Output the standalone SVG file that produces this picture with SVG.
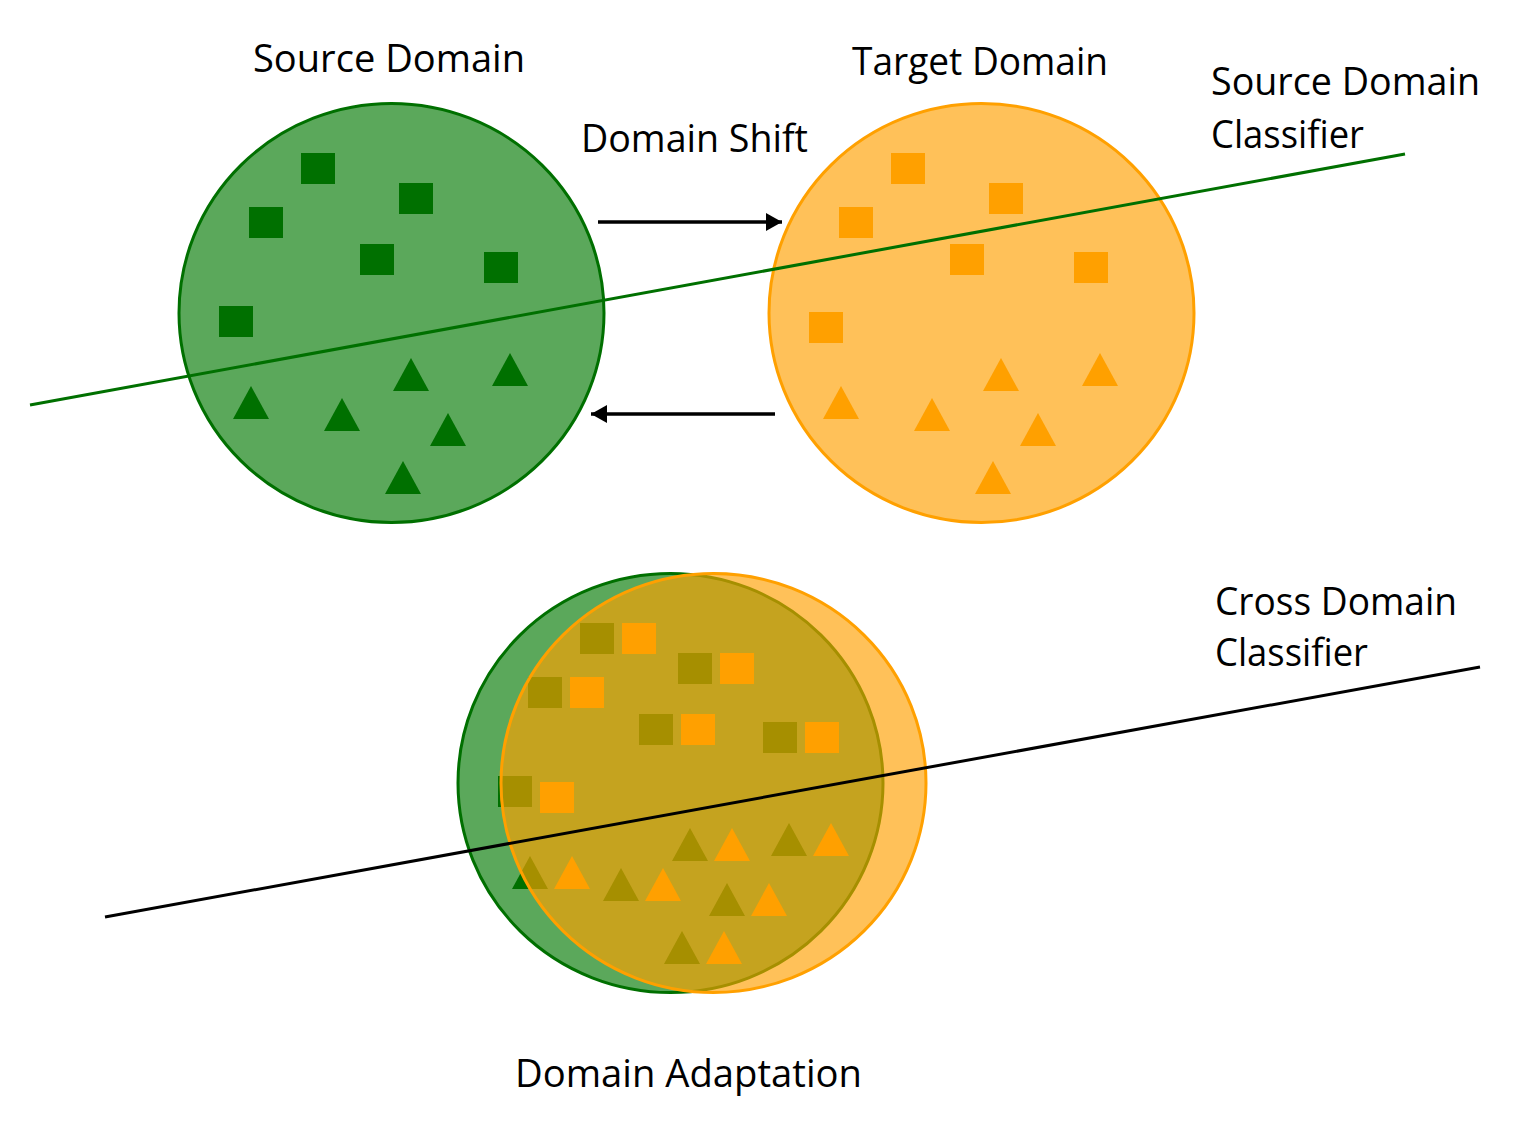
<svg xmlns="http://www.w3.org/2000/svg" xmlns:xlink="http://www.w3.org/1999/xlink" width="1525" height="1142" viewBox="0 0 1525 1142">
<style>
  .lbl { font-family: "Open Sans", "Liberation Sans", sans-serif; font-size: 39px; fill: #000; }
  .gdisk { fill: #5ba85b; stroke: #007000; stroke-width: 3; }
  .odisk { fill: #ffa000; fill-opacity: 0.65; stroke: #ffa000; stroke-width: 3; }
  .g { fill: #007000; }
  .o { fill: #ffa000; }
  .conn { stroke: #000; stroke-width: 3.5; fill: none; marker-end: url(#ah); }
</style>
<defs>
  <marker id="ah" markerUnits="userSpaceOnUse" markerWidth="18" markerHeight="18" viewBox="0 0 16 18" refX="16" refY="9" orient="auto">
    <path d="M0,0 L16,9 L0,18 Z" fill="#000"/>
  </marker>
  <rect id="sq" width="34" height="31"/>
  <path id="tri" d="M18,0 L36,33 L0,33 Z"/>
  <g id="sqset">
    <use xlink:href="#sq" x="301" y="153"/>
    <use xlink:href="#sq" x="249" y="207"/>
    <use xlink:href="#sq" x="399" y="183"/>
    <use xlink:href="#sq" x="360" y="244"/>
    <use xlink:href="#sq" x="484" y="252"/>
  </g>
  <g id="triset">
    <use xlink:href="#tri" x="233" y="386"/>
    <use xlink:href="#tri" x="324" y="398"/>
    <use xlink:href="#tri" x="393" y="358"/>
    <use xlink:href="#tri" x="492" y="353"/>
    <use xlink:href="#tri" x="430" y="413"/>
    <use xlink:href="#tri" x="385" y="461"/>
  </g>
</defs>

<g id="source-domain">
  <ellipse class="gdisk" cx="391.5" cy="313" rx="212.5" ry="209.5"/>
  <g class="g">
    <use xlink:href="#sqset"/>
    <use xlink:href="#sq" x="219" y="306"/>
    <use xlink:href="#triset"/>
  </g>
  <text class="lbl" x="253" y="72" textLength="272" lengthAdjust="spacingAndGlyphs">Source Domain</text>
</g>

<g id="target-domain">
  <ellipse class="odisk" cx="981.5" cy="313" rx="212.5" ry="209.5"/>
  <g class="o" transform="translate(590,0)">
    <use xlink:href="#sqset"/>
    <use xlink:href="#sq" x="219" y="312"/>
    <use xlink:href="#triset"/>
  </g>
  <text class="lbl" x="852" y="75" textLength="256" lengthAdjust="spacingAndGlyphs">Target Domain</text>
</g>

<g id="domain-adaptation">
  <ellipse class="gdisk" cx="670.5" cy="783" rx="212.5" ry="209.5"/>
  <g class="g" transform="translate(279,470)">
    <use xlink:href="#sqset"/>
    <use xlink:href="#sq" x="219" y="306"/>
    <use xlink:href="#triset"/>
  </g>
  <ellipse class="odisk" cx="713.5" cy="783" rx="212.5" ry="209.5"/>
  <g class="o" transform="translate(321,470)">
    <use xlink:href="#sqset"/>
    <use xlink:href="#sq" x="219" y="312"/>
    <use xlink:href="#triset"/>
  </g>
  <text class="lbl" x="515" y="1087" textLength="347" lengthAdjust="spacingAndGlyphs">Domain Adaptation</text>
</g>

<g id="source-classifier">
  <line x1="30" y1="405" x2="1405" y2="154" stroke="#007000" stroke-width="3"/>
  <text class="lbl" x="1211" y="95" textLength="269" lengthAdjust="spacingAndGlyphs">Source Domain</text>
  <text class="lbl" x="1211" y="148" textLength="153" lengthAdjust="spacingAndGlyphs">Classifier</text>
</g>

<g id="cross-classifier">
  <line x1="105" y1="917" x2="1480" y2="667" stroke="#000" stroke-width="3"/>
  <text class="lbl" x="1215" y="615" textLength="242" lengthAdjust="spacingAndGlyphs">Cross Domain</text>
  <text class="lbl" x="1215" y="666" textLength="153" lengthAdjust="spacingAndGlyphs">Classifier</text>
</g>

<g id="domain-shift-label">
  <text class="lbl" x="581" y="152" textLength="227" lengthAdjust="spacingAndGlyphs">Domain Shift</text>
</g>

<g id="connectors">
  <path class="conn" d="M598,222 L782,222"/>
  <path class="conn" d="M775,414 L591,414"/>
</g>
</svg>
